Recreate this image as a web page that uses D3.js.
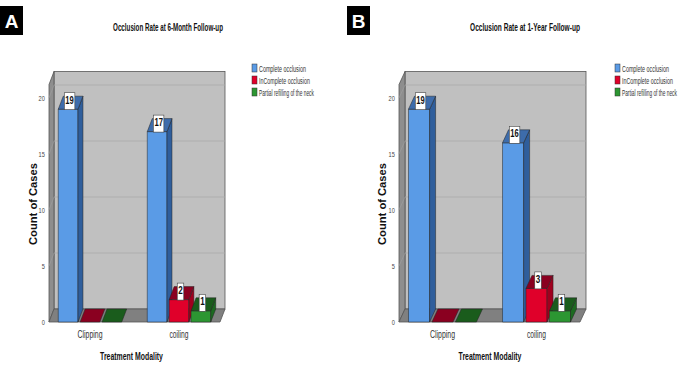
<!DOCTYPE html>
<html><head><meta charset="utf-8">
<script src="https://cdn.jsdelivr.net/npm/d3@7"></script>
<style>body{margin:0;background:#fff}svg{display:block}</style>
</head><body>
<script>
// ---- data ----
const categories = ["Clipping", "coiling"];
const seriesNames = ["Complete occlusion", "InComplete occlusion", "Partial refilling of the neck"];
const complete6M = [19, 17];
const incomplete6M = [0, 2];
const partial6M = [0, 1];
const complete1Y = [19, 16];
const incomplete1Y = [0, 3];
const partial1Y = [0, 1];
const yTicks = [0, 5, 10, 15, 20];
const titles = ["Occlusion Rate at 6-Month Follow-up", "Occlusion Rate at 1-Year Follow-up"];
const panelLetters = ["A", "B"];
const yAxisTitle = "Count of Cases";
const xAxisTitle = "Treatment Modality";

// ---- styles ----
const colors = {
  front: ["#5a9be6", "#e0002a", "#2c9632"],
  side:  ["#2f5e9c", "#a0001e", "#1c6a20"],
  top:   ["#3d6cab", "#8a0020", "#1a5c1c"]
};
const font = "'Liberation Sans',Arial,sans-serif";
const W = 685, H = 366;
const svg = d3.select("body").append("svg").attr("width", W).attr("height", H);

// draw text horizontally condensed to a target width (real scale transform)
function fitText(parent, str, x, y, width, opts) {
  const t = parent.append("text").attr("x", 0).attr("y", 0)
    .attr("font-family", font).attr("font-size", opts.size)
    .attr("font-weight", opts.bold ? "bold" : "normal")
    .attr("text-anchor", opts.anchor || "start").attr("fill", opts.fill || "#111").text(str);
  const nat = t.node().getComputedTextLength();
  const k = width / nat;
  t.attr("transform", `translate(${x},${y}) scale(${k},1)`);
  return t;
}

const panels = [
  { values: [complete6M, incomplete6M, partial6M], title: titles[0], letter: panelLetters[0],
    left: 49, right: 220, dx: 5, dy: 13, po: 0.104, pi: 0.287,
    titleX: 168, legendX: 252, xTitleX: 131.5, yTitleX: 33, letterX: 0 },
  { values: [complete1Y, incomplete1Y, partial1Y], title: titles[1], letter: panelLetters[1],
    left: 399, right: 580, dx: 6, dy: 13, po: 0.101, pi: 0.277,
    titleX: 525, legendX: 615, xTitleX: 490, yTitleX: 382, letterX: 347 }
];

const y = d3.scaleLinear().domain([0, 20]).range([322, 98]);
const wallTop = 21.2;
const catWidths = { "Clipping": 25, "coiling": 19 };

panels.forEach(p => {
  const g = svg.append("g");
  const x0 = d3.scaleBand().domain(categories).range([p.left, p.right]).paddingInner(p.pi).paddingOuter(p.po);
  const x1 = d3.scaleBand().domain(seriesNames).range([0, x0.bandwidth()]).paddingInner(0.1);
  const y0 = y(0), yT = y(wallTop), dx = p.dx, dy = p.dy;
  const line = d3.line();

  // panel letter
  g.append("rect").attr("x", p.letterX).attr("y", 6).attr("width", 23).attr("height", 29).attr("fill", "#000");
  g.append("text").attr("x", p.letterX + 11.5).attr("y", 27.5).attr("text-anchor", "middle")
    .attr("fill", "#fff").attr("font-family", font).attr("font-weight", "bold")
    .attr("font-size", 19).text(p.letter);

  // title
  fitText(g, p.title, p.titleX, 31, 110, { size: 11, bold: true, anchor: "middle" });

  // back wall
  g.append("rect").attr("x", p.left + dx).attr("y", yT - dy).attr("width", p.right - p.left)
    .attr("height", y0 - yT).attr("fill", "#c0c0c0").attr("stroke", "#555").attr("stroke-width", 0.8);
  // left wall
  g.append("path").attr("d", line([[p.left, yT], [p.left + dx, yT - dy], [p.left + dx, y0 - dy], [p.left, y0]]) + "Z")
    .attr("fill", "#8e8e8e").attr("stroke", "#555").attr("stroke-width", 0.8);
  // gridlines
  yTicks.filter(t => t > 0).forEach(t => {
    g.append("line").attr("x1", p.left + dx).attr("x2", p.right + dx).attr("y1", y(t) - dy).attr("y2", y(t) - dy)
      .attr("stroke", "#aaaaaa").attr("stroke-width", 0.8);
    g.append("line").attr("x1", p.left).attr("x2", p.left + dx).attr("y1", y(t)).attr("y2", y(t) - dy)
      .attr("stroke", "#a0a0a0").attr("stroke-width", 0.6);
  });
  // floor
  g.append("path").attr("d", line([[p.left, y0], [p.right, y0], [p.right + dx, y0 - dy], [p.left + dx, y0 - dy]]) + "Z")
    .attr("fill", "#808080").attr("stroke", "#555").attr("stroke-width", 0.8);

  // bars
  const labels = [];
  categories.forEach((c, ci) => {
    seriesNames.forEach((s, si) => {
      const v = p.values[si][ci];
      const x = x0(c) + x1(s), w = x1.bandwidth(), yt = y(v);
      const bg = g.append("g").attr("stroke", "#222").attr("stroke-width", 0.5).attr("stroke-linejoin", "round");
      if (v > 0) {
        bg.append("rect").attr("x", x).attr("y", yt).attr("width", w).attr("height", y0 - yt).attr("fill", colors.front[si]);
        bg.append("path").attr("d", line([[x + w, y0], [x + w + dx, y0 - dy], [x + w + dx, yt - dy], [x + w, yt]]) + "Z")
          .attr("fill", colors.side[si]);
        labels.push({ v, cx: x + w / 2 + 1.5, yb: yt + 0.5 });
      }
      bg.append("path").attr("d", line([[x, yt], [x + dx, yt - dy], [x + w + dx, yt - dy], [x + w, yt]]) + "Z")
        .attr("fill", colors.top[si]);
    });
  });
  // value labels
  labels.forEach(l => {
    const lg = g.append("g");
    const tw = String(l.v).length > 1 ? 8.5 : 4.5;
    lg.append("rect").attr("fill", "#fff").attr("stroke", "#444").attr("stroke-width", 0.6)
      .attr("x", l.cx - tw / 2 - 1).attr("y", l.yb - 17).attr("width", tw + 2).attr("height", 17);
    fitText(lg, String(l.v), l.cx, l.yb - 6, tw, { size: 11, bold: true, anchor: "middle" });
  });

  // y axis
  const ax = g.append("g").attr("transform", `translate(${p.left - 3},0)`)
    .call(d3.axisLeft(y).tickValues(yTicks).tickSize(0).tickPadding(1));
  ax.select(".domain").remove();
  ax.selectAll("text").attr("font-family", font).attr("font-size", 7).attr("fill", "#444")
    .attr("transform", "scale(0.8,1)").attr("x", -1.5);

  // x axis labels
  categories.forEach(c => {
    fitText(g, c, x0(c) + x0.bandwidth() / 2, 338, catWidths[c], { size: 11, anchor: "middle", fill: "#333" });
  });

  // axis titles
  g.append("text").attr("transform", `translate(${p.yTitleX + 3.5},204) rotate(-90)`).attr("text-anchor", "middle")
    .attr("font-family", font).attr("font-weight", "bold").attr("font-size", 10.5)
    .attr("textLength", 82).attr("lengthAdjust", "spacingAndGlyphs").attr("fill", "#111").text(yAxisTitle);
  fitText(g, xAxisTitle, p.xTitleX, 360, 63, { size: 10.5, bold: true, anchor: "middle" });

  // legend
  const legendW = [47, 51, 55];
  seriesNames.forEach((s, si) => {
    const ly = 68 + si * 12;
    g.append("rect").attr("x", p.legendX).attr("y", ly - 4).attr("width", 5).attr("height", 8)
      .attr("fill", colors.front[si]).attr("stroke", "#333").attr("stroke-width", 0.5);
    fitText(g, s, p.legendX + 7, ly + 3.5, legendW[si], { size: 9.5, fill: "#333" });
  });
});
</script>
</body></html>
